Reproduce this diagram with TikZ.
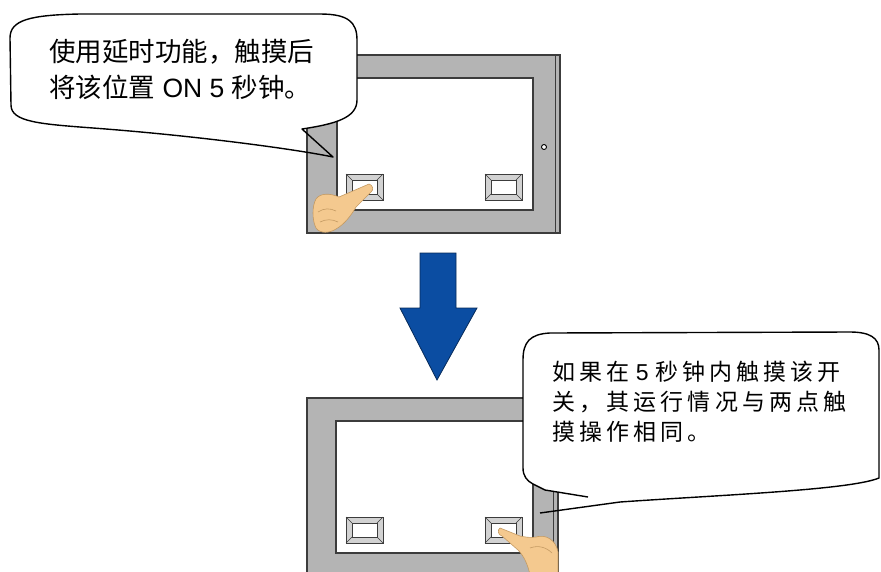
\documentclass[tikz,border=0pt]{standalone}
\usepackage{fontspec}
\usepackage{tikz}
\usetikzlibrary{positioning}
\setmainfont{Liberation Sans}
\newfontfamily\cjk{Noto Sans CJK SC}
\newfontfamily\cjkwide{Noto Sans CJK SC}[LetterSpace=18]
\newfontfamily\latinwide{Liberation Sans}[LetterSpace=18]
\definecolor{panelgray}{HTML}{B4B4B4}
\definecolor{edgegray}{HTML}{3C3C3C}
\definecolor{skin}{HTML}{F4C98F}
\definecolor{skinedge}{HTML}{C49A62}
\definecolor{arrowblue}{HTML}{0B4DA2}

\begin{document}
\begin{tikzpicture}[x=1pt,y=-1pt,
		panel/.style={fill=panelgray, draw=edgegray, line width=2pt},
		screen/.style={fill=white, draw=edgegray, line width=1.2pt},
		balloon/.style={draw=black, line width=1.4pt, line join=round},
		finger/.style={fill=skin, draw=skinedge, line width=0.6pt, line join=round}]
			\useasboundingbox (0,0) rectangle (881,571);
			\clip (0,0) rectangle (881,571);
			% panel before the touch
			\draw[panel] (307,55) rectangle (560,233);
			\draw[edgegray, line width=1pt] (555,56) -- (555,232);
			\draw[screen] (337,78) rectangle (533,210);
			\draw[fill=white, line width=0.9pt] (544,147) circle (2.5);
			% panel after the touch
			\draw[panel] (307,398) rectangle (558,590);
			\draw[edgegray, line width=1pt] (553,399) -- (553,590);
			\draw[screen] (336,421) rectangle (533,553);
			% switches
			\foreach \x/\y in {346/174, 485/174, 346/517, 485/517} {
				\draw[fill=gray!35, draw=edgegray, line width=1pt] (\x,\y) rectangle ++(37,26);
				\draw[fill=white, draw=edgegray, line width=0.8pt] (\x+6,\y+6) rectangle ++(25,14);
				\draw[edgegray, line width=0.6pt] (\x,\y) -- ++(6,6) (\x+37,\y) -- ++(-6,6)
					(\x,\y+26) -- ++(6,-6) (\x+37,\y+26) -- ++(-6,-6);
			}
			% hand on the left switch
			\draw[finger] (369,184) .. controls (373,185) and (374,190) .. (371,192)
				-- (356,207) .. controls (352,214) and (345,224) .. (336,229)
				.. controls (330,233) and (320,234) .. (316,228)
				.. controls (312,220) and (312,206) .. (316,199)
				.. controls (320,193) and (330,193) .. (339,197) -- cycle;
			\draw[skinedge, line width=0.6pt] (318,212) .. controls (324,208) and (330,208) .. (336,211)
				(320,222) .. controls (326,219) and (332,219) .. (338,222);
			% hand on the right switch
			\draw[finger] (500,528) .. controls (497,530) and (498,535) .. (502,536)
				-- (518,550) .. controls (524,556) and (528,565) .. (530,575)
				-- (558,575) -- (558,552)
				.. controls (556,540) and (546,534) .. (536,537)
				.. controls (530,538) and (525,537) .. (520,536) -- cycle;
			\draw[skinedge, line width=0.6pt] (530,548) .. controls (538,545) and (546,547) .. (552,553);
			% arrow between the panels
			\draw[fill=arrowblue, draw=arrowblue!55!black, line width=0.8pt]
				(420,253) -- (456,253) -- (456,308) -- (477,308) -- (437,380)
				-- (400,308) -- (420,308) -- cycle;
			% first balloon
			\fill[white] (302,151) .. controls (240,140) and (160,132) .. (93,128)
				.. controls (40,124) and (11,122) .. (11,105) -- (10,38)
				.. controls (10,20) and (30,15) .. (80,14) -- (320,14)
				.. controls (348,14) and (357,22) .. (357,40) -- (357,100)
				.. controls (357,118) and (335,124) .. (302,129) -- cycle;
			\draw[balloon] (333,157) .. controls (300,150) and (200,136) .. (93,128)
				.. controls (40,124) and (11,122) .. (11,105) -- (10,38)
				.. controls (10,20) and (30,15) .. (80,14) -- (320,14)
				.. controls (348,14) and (357,22) .. (357,40) -- (357,100)
				.. controls (357,118) and (335,124) .. (302,129) -- cycle;
			\node[anchor=north west, inner sep=0pt, align=left, font=\fontsize{26.5}{36}\selectfont] (note1) at (49,39)
				{{\cjk 使用延时功能，触摸后}\\{\cjk 将该位置} ON 5 {\cjk 秒钟。}};
			% second balloon
			\fill[white] (588,497) -- (620,502) .. controls (720,495) and (850,490) .. (879,478)
				-- (879,350) .. controls (879,338) and (870,332) .. (850,332) -- (550,333)
				.. controls (530,334) and (523,342) .. (523,360) -- (523,468)
				.. controls (523,476) and (527,481) .. (533,484) -- (545,490) -- cycle;
			\draw[balloon] (540,513) -- (620,502) .. controls (720,495) and (850,490) .. (879,478)
				-- (879,350) .. controls (879,338) and (870,332) .. (850,332) -- (550,333)
				.. controls (530,334) and (523,342) .. (523,360) -- (523,468)
				.. controls (523,476) and (527,481) .. (533,484) -- (545,490) -- (588,497);
			\node[anchor=north west, inner sep=0pt, align=left, font=\fontsize{23}{30}\selectfont] (note2) at (552,361)
				{{\cjkwide 如果在} {\latinwide 5} {\cjkwide 秒钟内触摸该开}\\{\cjkwide 关，其运行情况与两点触}\\{\cjkwide 摸操作相同。}};
		\end{tikzpicture}
\end{document}
